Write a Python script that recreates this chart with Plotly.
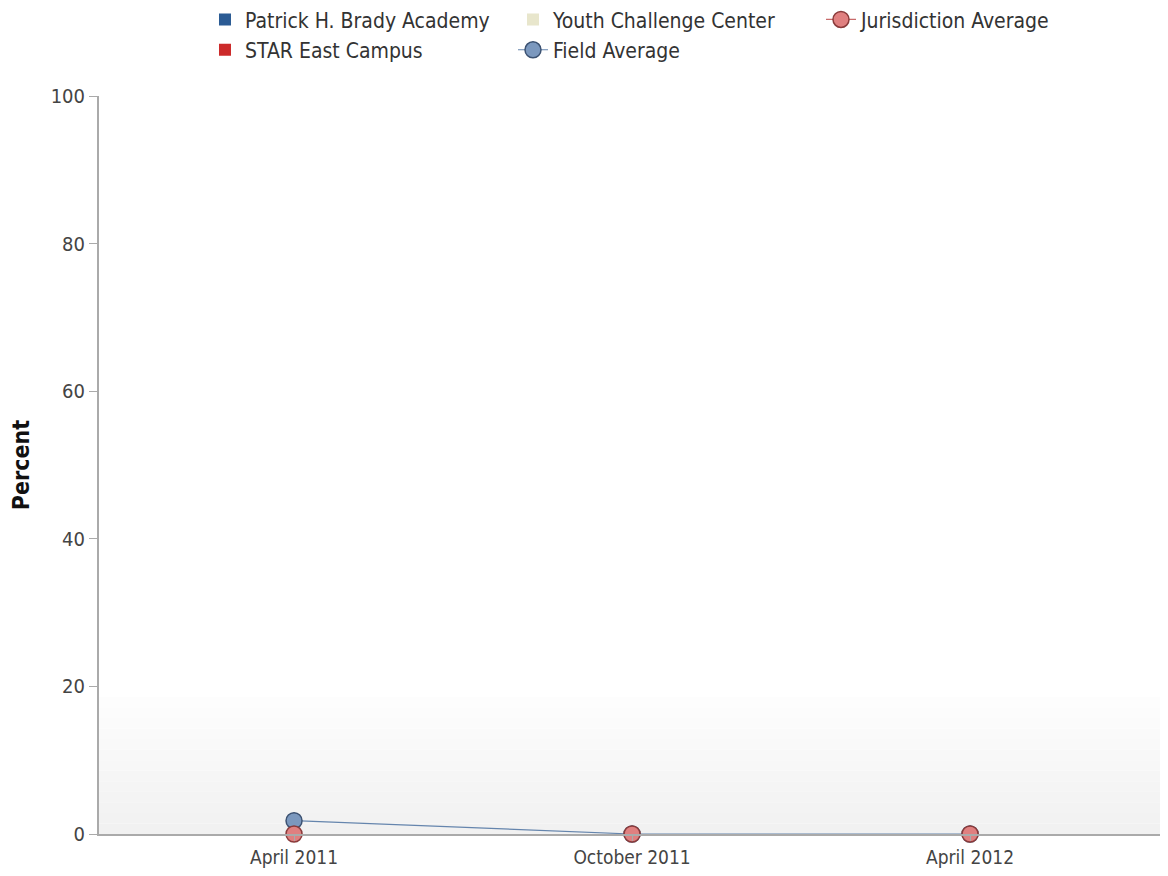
import plotly.graph_objects as go

categories = ["April 2011", "October 2011", "April 2012"]
patrick = [0, 0, 0]
star = [0, 0, 0]
youth = [0, 0, 0]
field_avg = [1.8, 0, 0]
juris_avg = [0, 0, 0]
y_ticks = [0, 20, 40, 60, 80, 100]

FONT = "DejaVu Sans Condensed"
juris_marker = dict(size=16, color="#e08080", line=dict(color="#8a3b3b", width=1.5))

fig = go.Figure()
fig.add_trace(go.Bar(x=categories, y=patrick, name="Patrick H. Brady Academy",
                     marker=dict(color="#2b5b94", line=dict(width=0)), legendrank=1))
fig.add_trace(go.Bar(x=categories, y=star, name="STAR East Campus",
                     marker=dict(color="#cc2a2a", line=dict(width=0)), legendrank=4))
fig.add_trace(go.Bar(x=categories, y=youth, name="Youth Challenge Center",
                     marker=dict(color="#e8e6cc", line=dict(width=0)), legendrank=2))
fig.add_trace(go.Scatter(x=categories, y=field_avg, name="Field Average", mode="lines+markers",
                         line=dict(color="#6585ad", width=1.2),
                         marker=dict(size=16, color="#7b98be", line=dict(color="#3c5272", width=1.5)),
                         legendrank=5, cliponaxis=False))
# Jurisdiction average: markers on the chart, line+marker symbol in the legend
fig.add_trace(go.Scatter(x=categories, y=juris_avg, name="Jurisdiction Average", mode="markers",
                         marker=juris_marker, legendgroup="juris", showlegend=False, cliponaxis=False))
fig.add_trace(go.Scatter(x=[None], y=[None], name="Jurisdiction Average", mode="lines+markers",
                         line=dict(color="#c86a6a", width=1.2), marker=juris_marker,
                         legendgroup="juris", legendrank=3))

# soft gradient near bottom of plot area
n = 14
for i in range(n):
    y0 = i / n * 0.2
    y1 = (i + 1) / n * 0.2
    g = int(241 + (255 - 241) * (i / (n - 1)))
    fig.add_shape(type="rect", xref="paper", yref="paper", x0=0, x1=1, y0=y0, y1=y1,
                  fillcolor=f"rgb({g},{g},{g})", line=dict(width=0), layer="below")

fig.update_layout(
    width=1152, height=860,
    margin=dict(l=91, r=0, t=88, b=34, autoexpand=False),
    paper_bgcolor="white", plot_bgcolor="white",
    font=dict(family=FONT, size=20, color="#444444"),
    barmode="group",
    showlegend=True,
    legend=dict(orientation="h", x=0.0999, xanchor="left", y=1.131, yanchor="top",
                entrywidth=263, entrywidthmode="pixels", traceorder="normal",
                font=dict(size=21, color="#333333"), itemwidth=30,
                bgcolor="rgba(0,0,0,0)", tracegroupgap=0),
    xaxis=dict(range=[-0.577, 2.562], showline=True, linecolor="#aaaaaa", linewidth=2,
               ticks="outside", ticklen=5, automargin=False,
               tickcolor="#aaaaaa", showgrid=False, tickfont=dict(size=19, color="#444444")),
    yaxis=dict(range=[0, 100], tickvals=y_ticks, showline=True, linecolor="#aaaaaa", linewidth=2,
               ticks="outside", ticklen=8, tickcolor="#aaaaaa", showgrid=False, zeroline=False,
               automargin=False,
               title=dict(text="<b>Percent</b>", font=dict(size=23, color="#111111"), standoff=22),
               tickfont=dict(size=20, color="#444444")),
)

fig.write_html("out.html")
